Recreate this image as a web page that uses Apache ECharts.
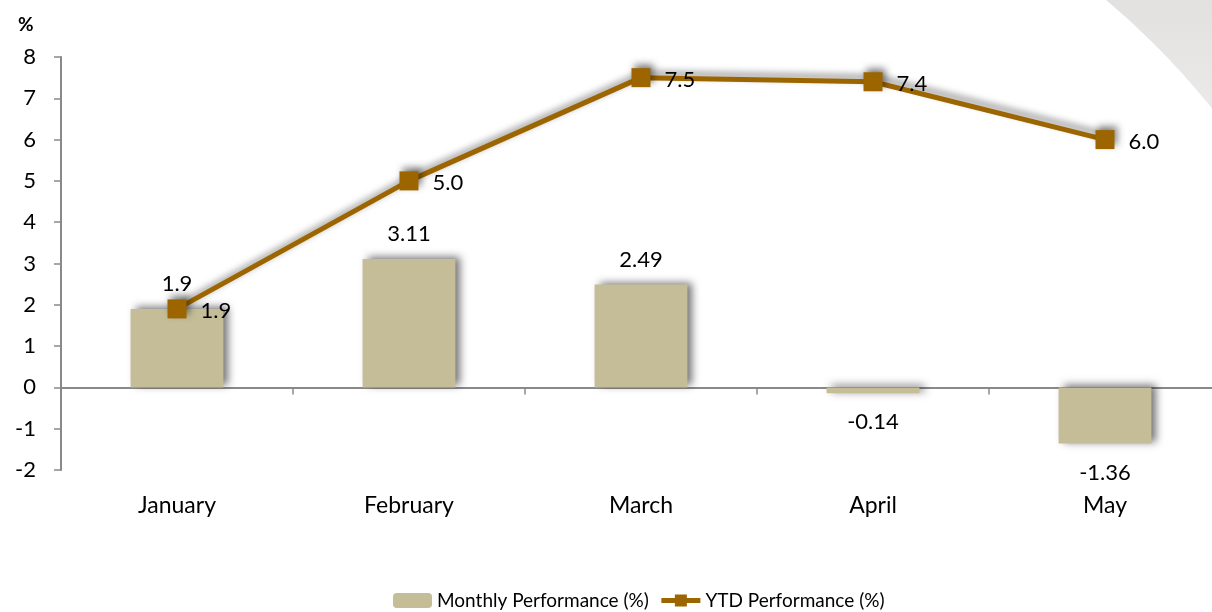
<!DOCTYPE html>
<html>
<head>
<meta charset="utf-8">
<script src="https://cdn.jsdelivr.net/npm/echarts@6/dist/echarts.min.js"></script>
<style>
html,body{margin:0;padding:0;background:#fff;}
#c{width:1212px;height:612px;}
</style>
</head>
<body>
<div id="c"></div>
<script>
const categories = ['January', 'February', 'March', 'April', 'May'];
const monthlyPerf = [1.9, 3.11, 2.49, -0.14, -1.36];
const ytdPerf = [1.9, 5.0, 7.5, 7.4, 6.0];
const yTicks = { min: -2, max: 8, interval: 1 };

const FONT = 'Lato, "Liberation Sans", sans-serif';
const chart = echarts.init(document.getElementById('c'), null, { renderer: 'canvas' });

const barData = monthlyPerf.map(v => ({
  value: v,
  label: { position: v >= 0 ? 'top' : 'bottom', distance: v >= 0 ? 14 : 18 }
}));

chart.setOption({
  backgroundColor: '#ffffff',
  animation: false,
  textStyle: { fontFamily: FONT },
  title: {
    text: '%', left: 13, top: 10,
    textStyle: { fontFamily: FONT, fontSize: 19, fontWeight: 'bold', color: '#000' }
  },
  graphic: [
    {
      type: 'rect', silent: true, z: -10,
      shape: { x: 1040, y: 0, width: 172, height: 330 },
      style: {
        fill: new echarts.graphic.LinearGradient(0, 0, 0, 1, [
          { offset: 0, color: '#e3e1df' },
          { offset: 0.5, color: '#efeeec' },
          { offset: 1, color: '#fbfbfa' }
        ])
      }
    },
    {
      type: 'circle', silent: true, z: -9,
      shape: { cx: 600, cy: 600, r: 785 },
      style: { fill: '#ffffff' }
    }
  ],
  legend: {
    left: 388, top: 586,
    itemWidth: 39, itemHeight: 15, itemGap: 10,
    textStyle: { fontFamily: FONT, fontSize: 19, color: '#000' },
    data: [
      { name: 'Monthly Performance (%)' },
      { name: 'YTD Performance (%)', lineStyle: { width: 5 } }
    ]
  },
  grid: { left: 61, top: 57, width: 1160, height: 413, containLabel: false, outerBoundsMode: 'none' },
  xAxis: {
    type: 'category',
    data: categories,
    axisLine: { onZero: true, lineStyle: { color: '#898989', width: 2 } },
    axisTick: { show: true, length: 7, lineStyle: { color: '#898989', width: 1.5 } },
    axisLabel: { margin: 24, fontFamily: FONT, fontSize: 23, color: '#000' },
    splitLine: { show: false }
  },
  yAxis: {
    type: 'value',
    min: yTicks.min, max: yTicks.max, interval: yTicks.interval,
    axisLine: { show: true, lineStyle: { color: '#898989', width: 2 } },
    axisTick: { show: true, length: 7, lineStyle: { color: '#898989', width: 1.5 } },
    axisLabel: { margin: 25, fontFamily: FONT, fontSize: 22, color: '#000' },
    splitLine: { show: false }
  },
  series: [
    {
      name: 'Monthly Performance (%)',
      type: 'bar',
      barWidth: '40%',
      data: barData,
      itemStyle: {
        color: '#c4bd97',
        shadowColor: 'rgba(0,0,0,0.55)', shadowBlur: 8, shadowOffsetX: 5, shadowOffsetY: -2
      },
      label: {
        show: true, fontFamily: FONT, fontSize: 22, color: '#000',
        formatter: p => String(p.value)
      },
      z: 2
    },
    {
      name: 'YTD Performance (%)',
      type: 'line',
      data: ytdPerf,
      symbol: 'rect',
      symbolSize: 19,
      lineStyle: {
        color: '#9c6500', width: 5,
        shadowColor: 'rgba(0,0,0,0.45)', shadowBlur: 7, shadowOffsetX: 3, shadowOffsetY: -4
      },
      itemStyle: {
        color: '#9c6500',
        shadowColor: 'rgba(0,0,0,0.45)', shadowBlur: 7, shadowOffsetX: 3, shadowOffsetY: -4
      },
      label: {
        show: true, position: 'right', distance: 14, offset: [0, 2],
        fontFamily: FONT, fontSize: 22, color: '#000',
        formatter: p => Number(p.value).toFixed(1)
      },
      z: 3
    }
  ]
});
</script>
</body>
</html>
